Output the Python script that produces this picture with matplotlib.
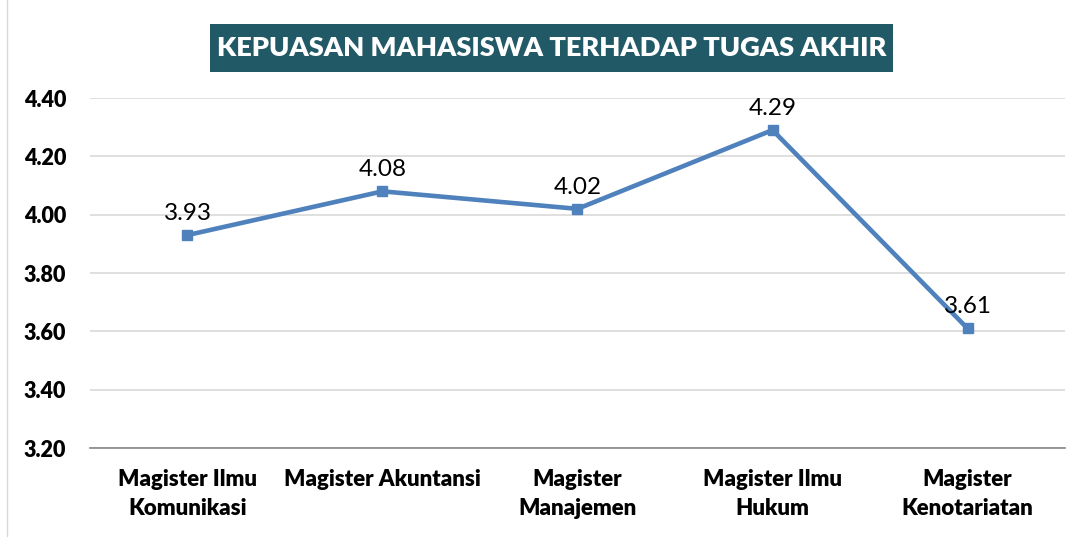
"""
Line chart: student satisfaction with the final project, per master's program.
"""

import matplotlib.pyplot as plt
from matplotlib.patches import Rectangle

# ==============================
# DATA
# ==============================
PROGRAMS = [
    "Magister Ilmu\nKomunikasi",
    "Magister Akuntansi",
    "Magister\nManajemen",
    "Magister Ilmu\nHukum",
    "Magister\nKenotariatan",
]
SCORES = [3.93, 4.08, 4.02, 4.29, 3.61]
Y_TICKS = [3.20, 3.40, 3.60, 3.80, 4.00, 4.20, 4.40]
TITLE = "KEPUASAN MAHASISWA TERHADAP TUGAS AKHIR"

FONT = ["Lato", "DejaVu Sans"]
LINE_COLOR = "#4F81BD"
TITLE_BG = "#215967"


def plot_chart(output_file):
    plt.rcParams["font.family"] = FONT

    fig = plt.figure(figsize=(10.89, 5.37), dpi=100)
    ax = fig.add_axes([0.0826, 0.1657, 0.8954, 0.6518])

    x = list(range(len(PROGRAMS)))
    ax.plot(x, SCORES, color=LINE_COLOR, linewidth=3.3, marker="s",
            markersize=7.5, solid_joinstyle="miter", zorder=3)

    for xi, val in zip(x, SCORES):
        ax.annotate(f"{val:.2f}", (xi, val), xytext=(0, 8),
                    textcoords="offset points", ha="center", va="bottom",
                    fontsize=17.5, color="#000000", zorder=4)

    ax.set_xlim(-0.5, len(PROGRAMS) - 0.5)
    ax.set_ylim(Y_TICKS[0], Y_TICKS[-1])
    ax.set_yticks(Y_TICKS)
    ax.set_yticklabels([f"{t:.2f}" for t in Y_TICKS], fontsize=15.5,
                       fontweight="heavy")
    ax.set_xticks(x)
    ax.set_xticklabels(PROGRAMS, fontsize=16, fontweight="heavy",
                       linespacing=1.5)

    ax.grid(axis="y", color="#D9D9D9", linewidth=1.2)
    ax.set_axisbelow(True)
    for side in ["top", "right", "left"]:
        ax.spines[side].set_visible(False)
    ax.spines["bottom"].set_color("#868686")
    ax.spines["bottom"].set_linewidth(1.2)
    ax.tick_params(axis="both", length=0)
    ax.tick_params(axis="y", pad=17)
    ax.tick_params(axis="x", pad=15)

    # title box
    fig.add_artist(Rectangle((0.1928, 0.866), 0.627, 0.0894,
                             transform=fig.transFigure, facecolor=TITLE_BG,
                             edgecolor="none"))
    fig.text(0.5069, 0.9106, TITLE, ha="center", va="center", color="white",
             fontsize=19.6, fontweight="heavy")

    # thin outer border on the left edge
    fig.add_artist(Rectangle((0.0065, -0.01), 1.1, 1.2, transform=fig.transFigure,
                             fill=False, edgecolor="#D9D9D9", linewidth=1.0))

    fig.savefig(output_file, dpi=100)


if __name__ == "__main__":
    plot_chart("out.png")
